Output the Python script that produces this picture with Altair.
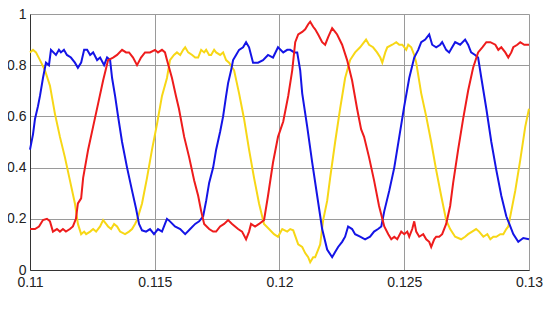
import altair as alt
import pandas as pd

# ---- data ----
blue_x = [0.11000, 0.11012, 0.11020, 0.11032, 0.11040, 0.11052, 0.11064, 0.11076, 0.11084, 0.11104,
          0.11116, 0.11124, 0.11136, 0.11148, 0.11164, 0.11180, 0.11192, 0.11205, 0.11217, 0.11229,
          0.11241, 0.11253, 0.11269, 0.11281, 0.11297, 0.11309, 0.11321, 0.11329, 0.11341, 0.11353,
          0.11369, 0.11389, 0.11409, 0.11425, 0.11437, 0.11449, 0.11465, 0.11481, 0.11497, 0.11513,
          0.11529, 0.11541, 0.11549, 0.11561, 0.11581, 0.11602, 0.11622, 0.11642, 0.11662, 0.11678,
          0.11694, 0.11706, 0.11718, 0.11734, 0.11746, 0.11762, 0.11774, 0.11786, 0.11794, 0.11806,
          0.11814, 0.11826, 0.11838, 0.11854, 0.11866, 0.11878, 0.11894, 0.11914, 0.11934, 0.11954,
          0.11974, 0.11994, 0.12015, 0.12031, 0.12043, 0.12059, 0.12071, 0.12083, 0.12091, 0.12111,
          0.12131, 0.12151, 0.12171, 0.12191, 0.12211, 0.12223, 0.12235, 0.12251, 0.12263, 0.12275,
          0.12291, 0.12303, 0.12323, 0.12343, 0.12363, 0.12379, 0.12395, 0.12408, 0.12420, 0.12440,
          0.12460, 0.12480, 0.12500, 0.12520, 0.12540, 0.12556, 0.12568, 0.12584, 0.12600, 0.12612,
          0.12628, 0.12644, 0.12652, 0.12668, 0.12680, 0.12692, 0.12704, 0.12724, 0.12744, 0.12756,
          0.12768, 0.12784, 0.12796, 0.12809, 0.12829, 0.12849, 0.12869, 0.12889, 0.12909, 0.12925,
          0.12937, 0.12957, 0.12977, 0.13000]
blue_y = [0.47, 0.53, 0.59, 0.64, 0.68, 0.75, 0.81, 0.80, 0.86, 0.84,
          0.86, 0.85, 0.86, 0.84, 0.83, 0.81, 0.79, 0.81, 0.86, 0.86,
          0.84, 0.85, 0.82, 0.83, 0.80, 0.83, 0.82, 0.75, 0.68, 0.60,
          0.50, 0.40, 0.31, 0.24, 0.18, 0.155, 0.15, 0.16, 0.14, 0.16,
          0.15, 0.18, 0.20, 0.19, 0.17, 0.16, 0.14, 0.16, 0.18, 0.19,
          0.21, 0.27, 0.34, 0.40, 0.47, 0.54, 0.60, 0.68, 0.73, 0.78,
          0.82, 0.84, 0.86, 0.87, 0.89, 0.87, 0.81, 0.81, 0.82, 0.84,
          0.83, 0.87, 0.85, 0.86, 0.86, 0.85, 0.85, 0.78, 0.69, 0.56,
          0.42, 0.29, 0.16, 0.08, 0.05, 0.07, 0.09, 0.11, 0.13, 0.17,
          0.16, 0.14, 0.13, 0.12, 0.13, 0.15, 0.16, 0.17, 0.23, 0.31,
          0.40, 0.52, 0.64, 0.75, 0.83, 0.86, 0.89, 0.90, 0.92, 0.88,
          0.87, 0.88, 0.89, 0.86, 0.85, 0.87, 0.89, 0.88, 0.90, 0.88,
          0.85, 0.84, 0.83, 0.75, 0.63, 0.50, 0.39, 0.29, 0.21, 0.17,
          0.14, 0.11, 0.125, 0.12]

red_x = [0.11000, 0.11020, 0.11036, 0.11052, 0.11068, 0.11080, 0.11092, 0.11108, 0.11120, 0.11132,
         0.11144, 0.11160, 0.11172, 0.11184, 0.11192, 0.11205, 0.11213, 0.11233, 0.11253, 0.11273,
         0.11293, 0.11313, 0.11333, 0.11349, 0.11369, 0.11385, 0.11397, 0.11413, 0.11429, 0.11445,
         0.11461, 0.11481, 0.11501, 0.11513, 0.11529, 0.11541, 0.11549, 0.11569, 0.11585, 0.11597,
         0.11618, 0.11638, 0.11658, 0.11674, 0.11686, 0.11698, 0.11718, 0.11734, 0.11746, 0.11762,
         0.11778, 0.11794, 0.11810, 0.11822, 0.11834, 0.11850, 0.11866, 0.11878, 0.11886, 0.11902,
         0.11918, 0.11938, 0.11954, 0.11974, 0.11994, 0.12015, 0.12035, 0.12051, 0.12063, 0.12075,
         0.12091, 0.12103, 0.12115, 0.12123, 0.12135, 0.12143, 0.12155, 0.12171, 0.12183, 0.12195,
         0.12211, 0.12223, 0.12231, 0.12251, 0.12271, 0.12291, 0.12311, 0.12327, 0.12339, 0.12359,
         0.12379, 0.12399, 0.12420, 0.12436, 0.12448, 0.12460, 0.12472, 0.12488, 0.12500, 0.12512,
         0.12520, 0.12532, 0.12540, 0.12548, 0.12560, 0.12576, 0.12588, 0.12600, 0.12608, 0.12620,
         0.12628, 0.12640, 0.12652, 0.12668, 0.12684, 0.12696, 0.12716, 0.12736, 0.12756, 0.12776,
         0.12796, 0.12813, 0.12829, 0.12845, 0.12865, 0.12877, 0.12889, 0.12905, 0.12917, 0.12929,
         0.12937, 0.12953, 0.12965, 0.12981, 0.13000]
red_y = [0.16, 0.16, 0.17, 0.195, 0.20, 0.19, 0.15, 0.16, 0.15, 0.16,
         0.15, 0.16, 0.17, 0.20, 0.26, 0.28, 0.36, 0.47, 0.56, 0.65,
         0.74, 0.82, 0.83, 0.84, 0.86, 0.85, 0.85, 0.83, 0.80, 0.83,
         0.85, 0.85, 0.86, 0.85, 0.86, 0.85, 0.82, 0.75, 0.68, 0.63,
         0.52, 0.44, 0.35, 0.29, 0.23, 0.18, 0.16, 0.15, 0.15, 0.17,
         0.18, 0.195, 0.18, 0.17, 0.16, 0.15, 0.12, 0.15, 0.18, 0.17,
         0.18, 0.195, 0.29, 0.42, 0.52, 0.58, 0.68, 0.78, 0.89, 0.92,
         0.93, 0.94, 0.96, 0.97, 0.95, 0.94, 0.92, 0.89, 0.88, 0.91,
         0.945, 0.93, 0.92, 0.88, 0.82, 0.74, 0.63, 0.55, 0.52, 0.44,
         0.35, 0.25, 0.17, 0.14, 0.12, 0.13, 0.12, 0.15, 0.14, 0.15,
         0.13, 0.16, 0.19, 0.15, 0.13, 0.14, 0.12, 0.11, 0.09, 0.12,
         0.13, 0.13, 0.14, 0.18, 0.25, 0.34, 0.47, 0.59, 0.70, 0.79,
         0.85, 0.87, 0.89, 0.89, 0.88, 0.86, 0.87, 0.85, 0.83, 0.85,
         0.87, 0.88, 0.89, 0.88, 0.88]

yellow_x = [0.11000, 0.11012, 0.11024, 0.11040, 0.11060, 0.11080, 0.11100, 0.11120, 0.11140, 0.11160,
            0.11180, 0.11192, 0.11205, 0.11217, 0.11225, 0.11241, 0.11253, 0.11265, 0.11281, 0.11293,
            0.11305, 0.11313, 0.11325, 0.11337, 0.11349, 0.11361, 0.11381, 0.11397, 0.11409, 0.11421,
            0.11429, 0.11449, 0.11469, 0.11489, 0.11509, 0.11529, 0.11549, 0.11561, 0.11577, 0.11589,
            0.11602, 0.11614, 0.11622, 0.11634, 0.11650, 0.11662, 0.11674, 0.11686, 0.11698, 0.11706,
            0.11718, 0.11726, 0.11738, 0.11746, 0.11762, 0.11774, 0.11786, 0.11798, 0.11818, 0.11838,
            0.11858, 0.11878, 0.11898, 0.11918, 0.11938, 0.11958, 0.11978, 0.11994, 0.12011, 0.12031,
            0.12043, 0.12055, 0.12075, 0.12091, 0.12103, 0.12115, 0.12123, 0.12135, 0.12143, 0.12155,
            0.12163, 0.12175, 0.12191, 0.12203, 0.12223, 0.12243, 0.12263, 0.12283, 0.12303, 0.12323,
            0.12347, 0.12359, 0.12375, 0.12391, 0.12404, 0.12412, 0.12424, 0.12432, 0.12452, 0.12468,
            0.12480, 0.12492, 0.12508, 0.12516, 0.12528, 0.12540, 0.12548, 0.12568, 0.12588, 0.12608,
            0.12628, 0.12648, 0.12668, 0.12684, 0.12704, 0.12728, 0.12744, 0.12756, 0.12772, 0.12788,
            0.12800, 0.12817, 0.12833, 0.12845, 0.12857, 0.12869, 0.12885, 0.12897, 0.12909, 0.12917,
            0.12929, 0.12945, 0.12965, 0.12985, 0.13000]
yellow_y = [0.85, 0.86, 0.85, 0.82, 0.78, 0.72, 0.61, 0.52, 0.44, 0.35,
            0.26, 0.18, 0.14, 0.15, 0.14, 0.15, 0.16, 0.15, 0.17, 0.195,
            0.18, 0.17, 0.16, 0.18, 0.17, 0.15, 0.14, 0.15, 0.16, 0.18,
            0.195, 0.26, 0.36, 0.47, 0.57, 0.68, 0.75, 0.82, 0.84, 0.85,
            0.84, 0.86, 0.87, 0.85, 0.84, 0.83, 0.83, 0.86, 0.85, 0.86,
            0.84, 0.84, 0.86, 0.85, 0.84, 0.85, 0.82, 0.81, 0.78, 0.69,
            0.59, 0.47, 0.36, 0.26, 0.18, 0.16, 0.14, 0.13, 0.16, 0.15,
            0.16, 0.155, 0.10, 0.09, 0.066, 0.05, 0.03, 0.05, 0.05, 0.08,
            0.10, 0.195, 0.27, 0.36, 0.50, 0.63, 0.75, 0.82, 0.85, 0.87,
            0.90, 0.88, 0.87, 0.85, 0.83, 0.81, 0.85, 0.87, 0.88, 0.89,
            0.88, 0.88, 0.86, 0.88, 0.87, 0.84, 0.81, 0.69, 0.60, 0.50,
            0.39, 0.29, 0.195, 0.16, 0.13, 0.12, 0.13, 0.14, 0.15, 0.16,
            0.15, 0.13, 0.14, 0.12, 0.13, 0.13, 0.14, 0.14, 0.16, 0.17,
            0.23, 0.31, 0.43, 0.56, 0.63]

x_ticks = [0.11, 0.115, 0.12, 0.125, 0.13]
y_ticks = [0, 0.2, 0.4, 0.6, 0.8, 1]

series = [("yellow", yellow_x, yellow_y, "#f7d716"),
          ("blue", blue_x, blue_y, "#1414e6"),
          ("red", red_x, red_y, "#ee1c1c")]

FONT = "Liberation Sans"

x_enc = alt.X("t:Q", scale=alt.Scale(domain=[0.11, 0.13], nice=False, zero=False),
              axis=alt.Axis(values=x_ticks, format="~g", title=None, ticks=False,
                            tickSize=0, labelPadding=5, labelFlush=False, labelOverlap=False,
                            domainColor="#333333", gridColor="#9a9a9a", gridWidth=1,
                            labelFont=FONT, labelFontSize=14, labelColor="#222222"))
y_enc = alt.Y("v:Q", scale=alt.Scale(domain=[0, 1], nice=False),
              axis=alt.Axis(values=y_ticks, format="~g", title=None, ticks=False,
                            tickSize=0, labelPadding=4, labelFlush=False, labelOverlap=False,
                            domainColor="#333333", gridColor="#9a9a9a", gridWidth=1,
                            labelFont=FONT, labelFontSize=14, labelColor="#222222"))

layers = []
for name, xs, ys, col in series:
    df = pd.DataFrame({"t": xs, "v": ys})
    layers.append(
        alt.Chart(df).mark_line(color=col, strokeWidth=2, strokeJoin="miter").encode(
            x=x_enc, y=y_enc, order="t:Q")
    )

chart = alt.layer(*layers).properties(
    width=499, height=256,
    autosize=alt.AutoSizeParams(type="none"),
    padding={"left": 22, "top": 6, "right": 17, "bottom": 30},
).configure_view(stroke="#333333", strokeWidth=1).configure(background="white")

chart.save("out.html", embed_options={"renderer": "svg", "actions": False})
